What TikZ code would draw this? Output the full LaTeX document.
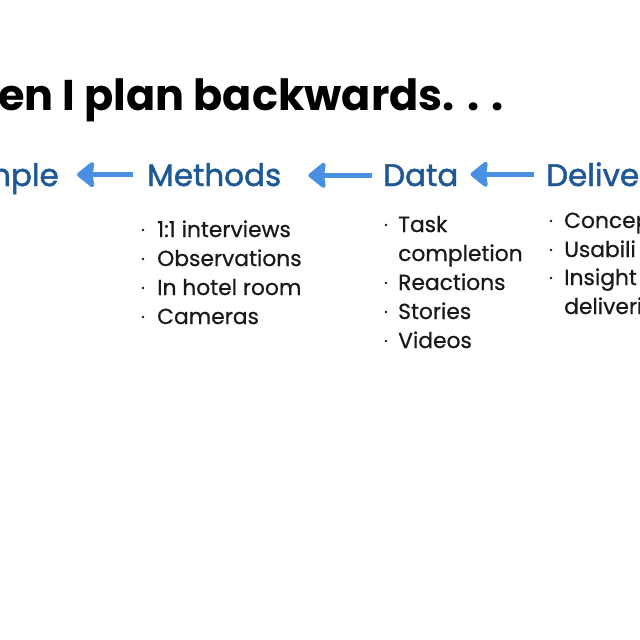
\documentclass[tikz,border=0pt]{standalone}
\usepackage{fontspec}
\setmainfont{Poppins}
\usetikzlibrary{arrows.meta,calc}
\definecolor{headblue}{RGB}{30,88,150}
\definecolor{arrowblue}{RGB}{74,144,226}
\definecolor{txt}{RGB}{25,25,25}
\begin{document}
\begin{tikzpicture}[x=1pt,y=-1pt,
 titletext/.style={font=\fontsize{43}{48}\selectfont\bfseries, inner sep=0, anchor=base west},
 head/.style={font=\fontsize{31}{34}\selectfont\addfontfeatures{FakeBold=1.5}, text=headblue, inner sep=0, anchor=base west},
 item/.style={font=\fontsize{21.8}{24}\selectfont\addfontfeatures{FakeBold=0.6}, text=txt, inner sep=0, anchor=base west},
 bul/.style={circle, fill=txt, inner sep=0, minimum size=2.8pt},
 back/.style={-{Stealth[length=19pt,width=30pt,inset=2pt,round]}, line width=5.5pt, draw=arrowblue, color=arrowblue}]
\useasboundingbox (0,0) rectangle (640,640);
\clip (0,0) rectangle (640,640);
\fill[white] (0,0) rectangle (640,640);
% title
\node[titletext] (title) at (-2,110) {en I plan backwards. . .};
% header row
\node[head, anchor=base east] (sample) at (59,186) {nple};
\node[head] (methods) at (147,186) {Methods};
\node[head] (data) at (383,186) {Data};
\node[head] (deliv) at (546,186) {Delive};
\draw[back] ($(methods.west)+(-14,0)$) -- ($(sample.east |- methods.west)+(18,0)$);
\draw[back] ($(data.west)+(-11,0)$) -- ($(methods.east |- data.west)+(27,0)$);
\draw[back] ($(deliv.west)+(-12,0)$) -- ($(data.east |- deliv.west)+(12,0)$);
% methods list
\node[item] (m1) at (157,237) {1:1 interviews};
\node[item] (m2) at (157,266) {Observations};
\node[item] (m3) at (157,295) {In hotel room};
\node[item] (m4) at (157,324) {Cameras};
\foreach \n in {m1,m2,m3,m4} \node[bul] (b\n) at ($(\n.base west)+(-14,-7)$) {};
% data list
\node[item] (d1) at (398,232) {Task};
\node[item] (d1b) at (398,261) {completion};
\node[item] (d2) at (398,290) {Reactions};
\node[item] (d3) at (398,319) {Stories};
\node[item] (d4) at (398,348) {Videos};
\foreach \n in {d1,d2,d3,d4} \node[bul] (b\n) at ($(\n.base west)+(-12,-7)$) {};
% deliverables list
\node[item] (v1) at (564,228) {Concep};
\node[item] (v2) at (564,257) {Usabili};
\node[item] (v3) at (564,285) {Insight};
\node[item] (v3b) at (564,314) {deliveri};
\foreach \n in {v1,v2,v3} \node[bul] (b\n) at ($(\n.base west)+(-13,-7)$) {};
\end{tikzpicture}
\end{document}
